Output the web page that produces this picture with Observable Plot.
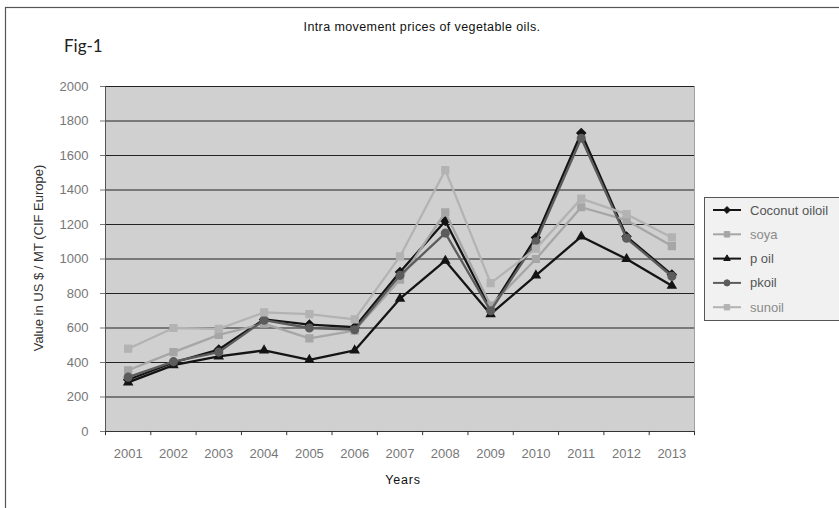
<!DOCTYPE html>
<html><head><meta charset="utf-8">
<script src="https://cdn.jsdelivr.net/npm/d3@7"></script>
<script src="https://cdn.jsdelivr.net/npm/@observablehq/plot@0.6"></script>
<style>
body{margin:0;background:#fff;}
#wrap{position:relative;width:839px;height:508px;overflow:hidden;}
</style></head><body><div id="wrap"></div>
<script>
const years = [2001,2002,2003,2004,2005,2006,2007,2008,2009,2010,2011,2012,2013];
const seriesNames = ["Coconut oiloil","soya","p oil","pkoil","sunoil"];
const coconut = [300, 400, 475, 650, 620, 605, 925, 1220, 710, 1125, 1730, 1130, 910];
const soya    = [355, 460, 560, 625, 540, 585, 880, 1270, 730, 1000, 1300, 1225, 1075];
const poil    = [285, 385, 435, 470, 415, 470, 770, 990, 680, 905, 1130, 1000, 845];
const pkoil   = [315, 405, 460, 645, 600, 590, 905, 1150, 700, 1100, 1700, 1120, 900];
const sunoil  = [480, 600, 595, 690, 680, 650, 1015, 1515, 860, 1060, 1350, 1260, 1125];
const yTicks = [0,200,400,600,800,1000,1200,1400,1600,1800,2000];
const seriesColors = ["#141414","#a6a6a6","#141414","#5c5c5c","#b3b3b3"];
const seriesSymbols = ["diamond2","square","triangle2","circle","square"];
const values = [coconut, soya, poil, pkoil, sunoil];

const rows = seriesNames.flatMap((name,i)=>years.map((yr,j)=>({series:name, year:yr, value:values[i][j]})));
const bounds = [...years.map(y=>y-0.5), years[years.length-1]+0.5];

const seriesMarks = seriesNames.flatMap(name => {
  const d = rows.filter(r => r.series === name);
  return [
    Plot.line(d, {x:"year", y:"value", stroke:"series", strokeWidth:2.3}),
    Plot.dot(d, {x:"year", y:"value", symbol:"series", fill:"series", stroke:"series", r:3.8})
  ];
});

const plot = Plot.plot({
  width:839, height:508,
  marginLeft:105, marginRight:145, marginTop:86, marginBottom:77,
  style:{fontFamily:"'Liberation Sans', Arial, sans-serif", fontSize:"13px", background:"transparent", overflow:"visible"},
  x:{domain:[2000.5,2013.5]},
  y:{domain:[0,2000]},
  color:{domain:seriesNames, range:seriesColors},
  symbol:{domain:seriesNames, range:seriesSymbols},
  marks:[
    Plot.frame({fill:"#d0d0d0", stroke:"#a0a0a0"}),
    Plot.ruleY(yTicks.filter(d=>d>0), {stroke:"#222", strokeWidth:1}),
    Plot.ruleY([0], {stroke:"#333"}),
    Plot.ruleX([years[0]-0.5], {stroke:"#555"}),
    Plot.ruleX(bounds, {y1:0, y2:-24, stroke:"#333"}),
    Plot.axisY({ticks:yTicks, tickSize:5, tickPadding:12, tickFormat:d=>String(d), label:null, color:"#777", fontSize:13}),
    Plot.axisX({ticks:years, tickSize:0, tickPadding:17, tickFormat:d=>String(d), label:null, color:"#777", fontSize:13}),
    ...seriesMarks
  ]
});

const svg = d3.select(plot);
// outer chart border
svg.insert("rect", ":first-child").attr("x",5.5).attr("y",7.5).attr("width",850).attr("height",520)
  .attr("fill","none").attr("stroke","#555").attr("stroke-width",1.2);

svg.append("text").attr("x",422).attr("y",31).attr("text-anchor","middle")
  .style("font-family","'Liberation Sans', Arial, sans-serif").style("font-size","12.5px").style("letter-spacing","0.4px")
  .attr("fill","#111").text("Intra movement prices of vegetable oils.");
svg.append("text").attr("x",64).attr("y",52).attr("text-anchor","start")
  .style("font-family","Lato, 'Open Sans', sans-serif").style("font-size","17px").attr("fill","#222").text("Fig-1");
svg.append("text").attr("transform","translate(43,258) rotate(-90)").attr("text-anchor","middle")
  .style("font-family","'Liberation Sans', Arial, sans-serif").style("font-size","13px").attr("fill","#333")
  .text("Value in US $ / MT (CIF Europe)");
svg.append("text").attr("x",403).attr("y",484).attr("text-anchor","middle")
  .style("font-family","'Liberation Sans', Arial, sans-serif").style("font-size","12.5px").style("letter-spacing","0.8px")
  .attr("fill","#111").text("Years");

// legend
const symMap = {diamond2:d3.symbolDiamond2, square:d3.symbolSquare, triangle2:d3.symbolTriangle2, circle:d3.symbolCircle};
const lg = svg.append("g").attr("text-anchor","start");
lg.append("rect").attr("x",704.5).attr("y",197.5).attr("width",160).attr("height",123)
  .attr("fill","#f1f1f1").attr("stroke","#555").attr("stroke-width",1);
seriesNames.forEach((name,i)=>{
  const y = 210 + i*24.3;
  lg.append("line").attr("x1",713).attr("x2",741).attr("y1",y).attr("y2",y)
    .attr("stroke",seriesColors[i]).attr("stroke-width",2);
  lg.append("path").attr("transform",`translate(727,${y})`)
    .attr("d", d3.symbol(symMap[seriesSymbols[i]], 30)())
    .attr("fill",seriesColors[i]).attr("stroke",seriesColors[i]);
  lg.append("text").attr("x",750).attr("y",y+4.5).attr("text-anchor","start")
    .style("font-family","'Liberation Sans', Arial, sans-serif").style("font-size","13px")
    .attr("fill", i===1||i===4 ? "#8a8a8a" : "#555").text(name);
});

document.getElementById("wrap").appendChild(plot);
</script></body></html>
